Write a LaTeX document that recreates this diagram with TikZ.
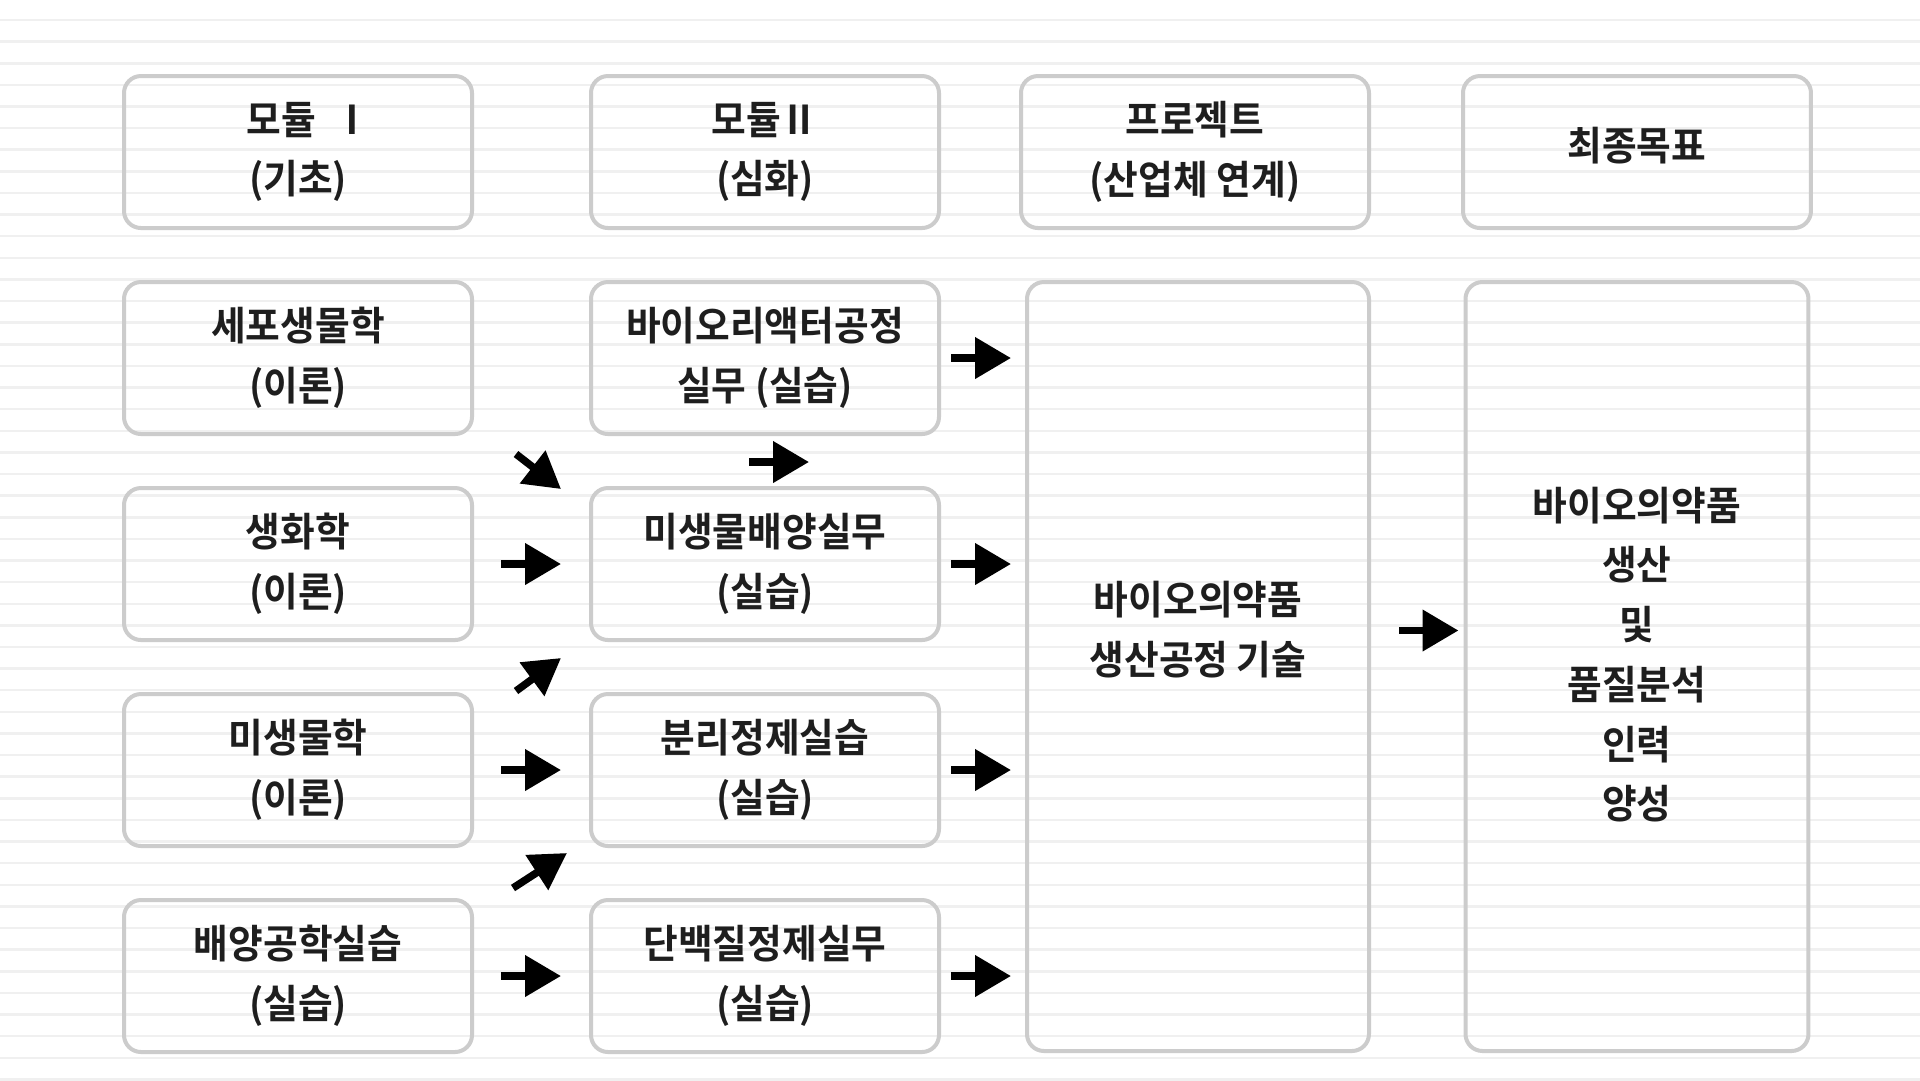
\documentclass[tikz,border=0pt]{standalone}
\usepackage{fontspec}
\setmainfont{Noto Sans CJK KR}[BoldFont={* Bold},FakeStretch=0.95]
\usetikzlibrary{positioning,arrows.meta}
\definecolor{boxgray}{HTML}{CCCCCC}
\definecolor{rule}{HTML}{F0F0F0}
\definecolor{ink}{HTML}{1E1E1E}

\begin{document}
\begin{tikzpicture}[x=0.1mm, y=-0.1mm, node distance=5mm and 11.5mm,
  box/.style = {draw=boxgray, line width=0.4mm, rounded corners=1.7mm, minimum width=34.8mm, minimum height=15.2mm, inner sep=0pt, align=center, text=ink, font=\bfseries\fontsize{11.3pt}{17pt}\selectfont},
  txt/.style = {align=center, text=ink, font=\bfseries\fontsize{11.3pt}{17pt}\selectfont},
  fat/.style = {-{Triangle[length=3.6mm,width=4mm]}, line width=0.75mm}]
  \fill[white] (0,0) rectangle (1920,1080);
  \useasboundingbox (0,0) rectangle (1920,1080);
  \foreach \k in {0,...,49}
    \draw[rule, line width=0.25mm] (0,{20+21.62*\k}) -- (1920,{20+21.62*\k});
  % headers
  \node[box] (m1) at (298,152) {\hspace*{2.2mm}모듈 \ Ⅰ\\(기초)};
  \node[box, right=of m1] (m2) {모듈Ⅱ\\(심화)};
  \node[box, right=7.8mm of m2] (m3) {프로젝트\\(산업체 연계)};
  \node[box, right=9mm of m3, text depth=1.7mm] (m4) {최종목표};
  % module I
  \node[box, below=of m1] (a1) {세포생물학\\(이론)};
  \node[box, below=of a1] (a2) {생화학\\(이론)};
  \node[box, below=of a2] (a3) {미생물학\\(이론)};
  \node[box, below=of a3] (a4) {배양공학실습\\(실습)};
  % module II
  \node[box, below=of m2] (b1) {바이오리액터공정\\실무 (실습)};
  \node[box, below=of b1] (b2) {미생물배양실무\\(실습)};
  \node[box, below=of b2] (b3) {분리정제실습\\(실습)};
  \node[box, below=of b3] (b4) {단백질정제실무\\(실습)};
  % project and goal
  \node[box, minimum width=34.2mm, minimum height=76.9mm, below=of m3.south east, anchor=north east] (p) {};
  \node[box, minimum width=34.3mm, minimum height=76.9mm, below=of m4] (g) {};
  \node[txt] at ([yshift=3.7mm]p.center) {바이오의약품\\생산공정 기술};
  \node[txt] at ([yshift=1.2mm]g.center) {바이오의약품\\생산\\및\\품질분석\\인력\\양성};
  % arrows
  \foreach \i in {2,3,4}
    \draw[fat, shorten <=2.7mm, shorten >=2.8mm] (a\i) -- (b\i);
  \foreach \i in {1,2,3,4}
    \draw[fat, shorten <=1mm, shorten >=1.4mm] (b\i) -- (b\i -| p.west);
  \draw[fat, shorten <=2.8mm, shorten >=0.5mm] ([yshift=3.6mm]p.east) -- ([yshift=3.6mm]g.west);
  \coordinate (s0) at (749,462);
  \coordinate (e0) at (809,462);
  \coordinate (s1) at (516,454);
  \coordinate (e1) at (561,489);
  \coordinate (s2) at (516,691);
  \coordinate (e2) at (561,658);
  \coordinate (s3) at (513,888);
  \coordinate (e3) at (567,853);
  \foreach \i in {0,...,3}
    \draw[fat] (s\i) -- (e\i);
\end{tikzpicture}
\end{document}
